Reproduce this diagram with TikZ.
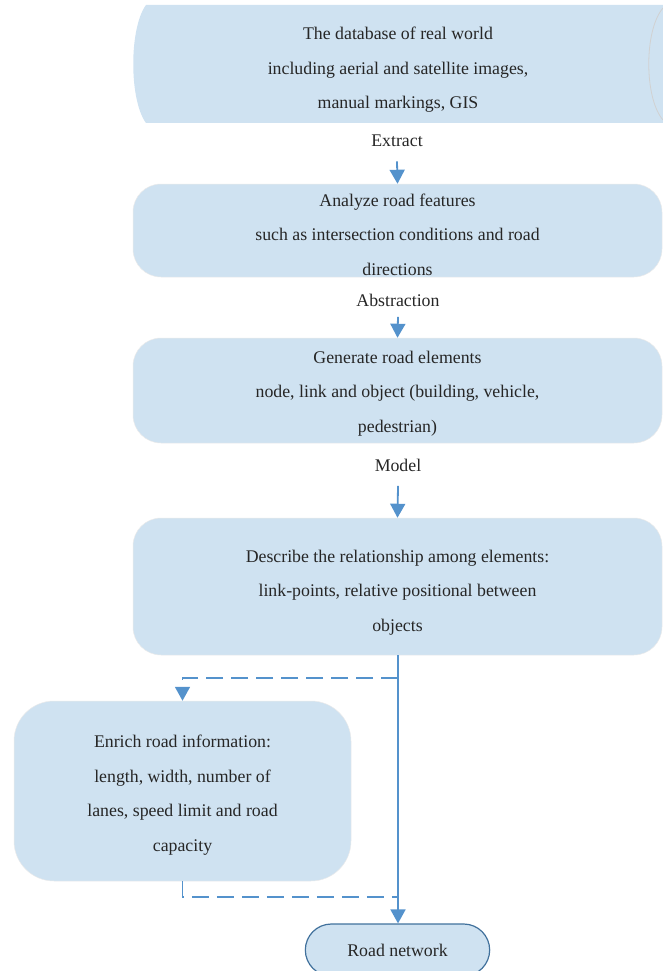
\documentclass[tikz,border=0pt]{standalone}
\usepackage{fontspec}
\setmainfont{Liberation Serif}
\usetikzlibrary{arrows.meta,shapes.misc}
\definecolor{boxfill}{RGB}{207,226,241}
\definecolor{flowblue}{RGB}{84,146,204}
\definecolor{edgeblue}{RGB}{65,113,156}
\definecolor{txtgray}{RGB}{38,38,38}

\begin{document}
\begin{tikzpicture}[x=1pt,y=-1pt,
    every node/.style={font=\fontsize{17.8}{34.5}\selectfont,text=txtgray},
    stepbox/.style={rectangle,rounded corners=28pt,fill=boxfill,draw=black!8,line width=0.5pt,minimum width=529pt},
    steptext/.style={align=center},
    flow/.style={draw=flowblue,line width=1.8pt,-{Triangle[width=15pt,length=14pt]}},
    side/.style={draw=flowblue,line width=1.8pt,dash pattern=on 17pt off 8pt}]
    \useasboundingbox (0,0) rectangle (663,971);

    \path[fill=boxfill] (146,5) -- (664,5) -- (664,123) -- (146,123) .. controls (129,100) and (129,28) .. (146,5);
    \draw[black!18,line width=0.8pt] (663,8) .. controls (644,30) and (644,98) .. (663,120);
    \node[steptext] (db) at (398,70) {The database of real world\\including aerial and satellite images,\\manual markings, GIS};

    \node (extract) at (397,141) {Extract};
    \node[stepbox,minimum height=93pt] (analyze) at (397.5,230.5) {};
    \node[steptext] (analyzetext) at ([yshift=-4pt]analyze.center) {Analyze road features\\such as intersection conditions and road\\directions};

    \node (abstract) at (398,300) {Abstraction};
    \node[stepbox,minimum height=105pt] (generate) at (397.5,390.5) {};
    \node[steptext] (generatetext) at ([yshift=-3pt]generate.center) {Generate road elements\\node, link and object (building, vehicle,\\pedestrian)};

    \node (model) at (398,465) {Model};
    \node[stepbox,minimum height=137pt] (describe) at (397.5,586.5) {};
    \node[steptext] (describetext) at ([yshift=-6pt]describe.center) {Describe the relationship among elements:\\link-points, relative positional between\\objects};

    \node[stepbox,minimum width=337pt,minimum height=180pt,rounded corners=40pt] (enrich) at (182.5,791) {};
    \node[steptext] (enrichtext) at ([yshift=-4pt]enrich.center) {Enrich road information:\\length, width, number of\\lanes, speed limit and road\\capacity};

    \node[rounded rectangle,fill=boxfill,draw=edgeblue,line width=1.2pt,minimum width=191pt,minimum height=52pt] (road) at (397.5,950) {Road network};

    \coordinate (split) at (398,678);
    \coordinate (join) at (398,897);

    \path[flow] ([yshift=-11pt]extract.south) -- (analyze.north);
    \path[flow] ([yshift=-7pt]abstract.south) -- (generate.north);
    \path[flow] ([yshift=-11pt]model.south) -- (describe.north);
    \path[flow] (describe.south -| split) -- (road.north -| split);

    \path[side,-{Triangle[width=15pt,length=14pt]}] (split) -| (enrich.north);
    \path[side] (enrich.south) |- (join);
\end{tikzpicture}
\end{document}
